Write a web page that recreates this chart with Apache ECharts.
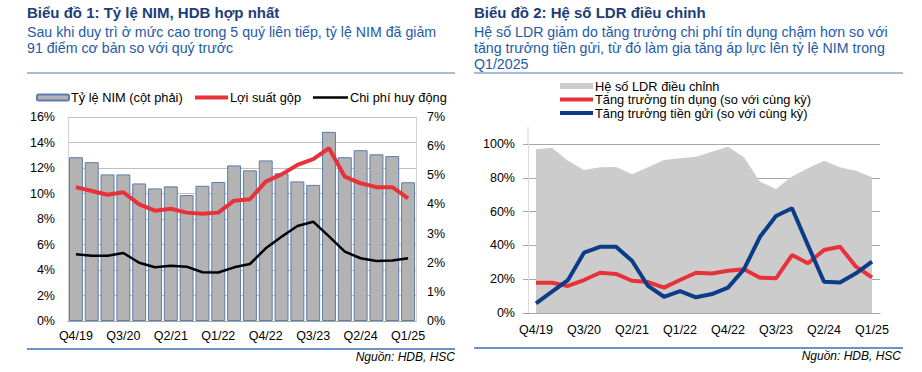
<!DOCTYPE html>
<html><head><meta charset="utf-8">
<script src="https://cdn.jsdelivr.net/npm/echarts@6/dist/echarts.min.js"></script>
<style>html,body{margin:0;padding:0;background:#fff}#c{width:922px;height:372px}</style>
</head><body><div id="c"></div>
<script>
var categories = ['Q4/19','Q1/20','Q2/20','Q3/20','Q4/20','Q1/21','Q2/21','Q3/21','Q4/21','Q1/22','Q2/22','Q3/22','Q4/22','Q1/23','Q2/23','Q3/23','Q4/23','Q1/24','Q2/24','Q3/24','Q4/24','Q1/25'];
// Chart 1
var nim = [5.62,5.45,5.03,5.03,4.72,4.55,4.62,4.32,4.64,4.77,5.34,5.17,5.51,5.07,4.79,4.67,6.49,5.62,5.86,5.72,5.66,4.76];
var grossYield = [10.5,10.2,9.9,10.1,9.15,8.65,8.8,8.5,8.42,8.5,9.44,9.55,10.93,11.5,12.24,12.7,13.55,11.32,10.8,10.5,10.5,9.62];
var fundingCost = [5.23,5.12,5.12,5.33,4.57,4.21,4.34,4.26,3.82,3.8,4.21,4.47,5.7,6.61,7.45,7.79,6.64,5.44,4.92,4.71,4.75,4.92];
// Chart 2
var ldr = [96.9,97.8,90.1,84.6,86.2,86.4,82.1,86.2,90.5,91.5,92.5,95.4,98.4,92.1,77.7,73.4,80.7,85.6,90.1,86.2,84.2,80.3];
var creditGrowth = [17.9,17.9,16,19.5,23.8,23.1,19.1,18.3,15,19.5,23.8,23.4,25,25.9,20.9,20.5,34.3,29.4,37.3,39.2,27.4,21.1];
var depositGrowth = [5.7,12.6,19.5,35.7,39.2,39.2,30.9,16,9.6,13,9.3,11.2,15,25.9,45.1,57.4,62,40,18.5,18,23.5,30.4];
var leftTicks = [0,2,4,6,8,10,12,14,16];
var rightTicks = [0,1,2,3,4,5,6,7];
var ldrTicks = [0,20,40,60,80,100];

var FONT = "'Liberation Sans', Arial, sans-serif";
var chart = echarts.init(document.getElementById('c'), null, {renderer:'svg'});
var axisLbl = {color:'#000', fontFamily:FONT, fontSize:12.5};
var gridLineCol = '#bfbfbf';

function txt(x,y,s,opt){
  return {type:'text', x:x, y:y, silent:true, style:Object.assign({text:s, fontFamily:FONT, fontSize:14.2, fill:'#1f5aa6', verticalAlign:'middle', align:'left'}, opt||{})};
}
function line(x1,y1,x2,y2,col,w){
  return {type:'line', silent:true, shape:{x1:x1,y1:y1,x2:x2,y2:y2}, style:{stroke:col, lineWidth:w}};
}
var legText = {fontFamily:FONT,fontSize:12.8,color:'#000',padding:[0,0,0,-3],lineHeight:13};

var option = {
  animation:false,
  backgroundColor:'#fff',
  textStyle:{fontFamily:FONT},
  graphic:[
    txt(27,12,'Biểu đồ 1: Tỷ lệ NIM, HDB hợp nhất',{fontWeight:'bold', fontSize:15, fill:'#1b3d78'}),
    txt(27,32,'Sau khi duy trì ở mức cao trong 5 quý liên tiếp, tỷ lệ NIM đã giảm'),
    txt(27,48,'91 điểm cơ bản so với quý trước'),
    line(27,73,455,73,'#8ea4c8',1.5),
    line(27,349,455,349,'#3d6fb3',1.5),
    txt(455,357,'Nguồn: HDB, HSC',{align:'right', fontStyle:'italic', fontSize:12, fill:'#000'}),
    txt(474,12,'Biểu đồ 2: Hệ số LDR điều chỉnh',{fontWeight:'bold', fontSize:15, fill:'#1b3d78'}),
    txt(474,32,'Hệ số LDR giảm do tăng trưởng chi phí tín dụng chậm hơn so với'),
    txt(474,48,'tăng trưởng tiền gửi, từ đó làm gia tăng áp lực lên tỷ lệ NIM trong'),
    txt(474,64,'Q1/2025'),
    line(474,73,903,73,'#8ea4c8',1.5),
    line(474,348,903,348,'#3d6fb3',1.5),
    txt(901,356,'Nguồn: HDB, HSC',{align:'right', fontStyle:'italic', fontSize:12, fill:'#000'}),
    line(528,127,528,144,'#d9d9d9',1)
  ],
  legend:[
    {data:['Tỷ lệ NIM (cột phải)'], left:36, top:91, itemWidth:32, itemHeight:6, itemGap:0, textStyle:legText, padding:0},
    {data:['Lợi suất gộp'], left:195, top:91, itemWidth:33, itemHeight:4, icon:'rect', textStyle:legText, padding:0},
    {data:['Chi phí huy động'], left:313, top:91, itemWidth:35, itemHeight:2.5, icon:'rect', textStyle:legText, padding:0},
    {data:['Hệ số LDR điều chỉnh'], left:560, top:79.5, itemWidth:33, itemHeight:6, icon:'rect', textStyle:legText, padding:0},
    {data:['Tăng trưởng tín dụng (so với cùng kỳ)'], left:560, top:93, itemWidth:33, itemHeight:4, icon:'rect', textStyle:legText, padding:0},
    {data:['Tăng trưởng tiền gửi (so với cùng kỳ)'], left:560, top:106.5, itemWidth:33, itemHeight:4, icon:'rect', textStyle:legText, padding:0}
  ],
  grid:[
    {left:68, right:506, top:117, bottom:51},
    {left:528, right:42, top:144, bottom:59}
  ],
  xAxis:[
    {type:'category', gridIndex:0, data:categories, boundaryGap:true,
     axisLine:{lineStyle:{color:'#a6a6a6'}}, axisTick:{interval:0, length:5, lineStyle:{color:'#a6a6a6'}},
     axisLabel:Object.assign({interval:2, margin:8}, axisLbl)},
    {type:'category', gridIndex:1, data:categories, boundaryGap:true,
     axisLine:{lineStyle:{color:'#a6a6a6'}}, axisTick:{interval:0, length:5, lineStyle:{color:'#a6a6a6'}},
     axisLabel:Object.assign({interval:2, margin:10}, axisLbl)}
  ],
  yAxis:[
    {type:'value', gridIndex:0, min:leftTicks[0], max:leftTicks[leftTicks.length-1], interval:2,
     axisLine:{show:true, lineStyle:{color:'#d0d0d0'}}, axisTick:{show:false},
     splitLine:{lineStyle:{color:gridLineCol}},
     axisLabel:Object.assign({formatter:'{value}%', margin:13}, axisLbl)},
    {type:'value', gridIndex:0, position:'right', min:rightTicks[0], max:rightTicks[rightTicks.length-1], interval:1,
     axisLine:{show:true, lineStyle:{color:'#d0d0d0'}}, axisTick:{show:false},
     splitLine:{show:false},
     axisLabel:Object.assign({formatter:'{value}%', margin:11}, axisLbl)},
    {type:'value', gridIndex:1, min:ldrTicks[0], max:ldrTicks[ldrTicks.length-1], interval:20,
     axisLine:{show:true, lineStyle:{color:'#d9d9d9'}}, axisTick:{show:true, length:5, lineStyle:{color:'#a6a6a6'}},
     splitLine:{lineStyle:{color:'#a6a6a6'}},
     axisLabel:Object.assign({formatter:'{value}%', margin:13}, axisLbl)}
  ],
  series:[
    {name:'Tỷ lệ NIM (cột phải)', type:'bar', xAxisIndex:0, yAxisIndex:1, data:nim, barCategoryGap:'12%',
     itemStyle:{color:'#b3b3b3', borderColor:'#5b7db0', borderWidth:1}},
    {name:'Lợi suất gộp', type:'line', xAxisIndex:0, yAxisIndex:0, data:grossYield, showSymbol:false, symbol:'none',
     lineStyle:{color:'#e8323a', width:4}, itemStyle:{color:'#e8323a'}},
    {name:'Chi phí huy động', type:'line', xAxisIndex:0, yAxisIndex:0, data:fundingCost, showSymbol:false, symbol:'none',
     lineStyle:{color:'#000', width:2.5}, itemStyle:{color:'#000'}},
    {name:'Hệ số LDR điều chỉnh', type:'line', xAxisIndex:1, yAxisIndex:2, data:ldr, showSymbol:false, symbol:'none',
     lineStyle:{width:0, color:'#cccccc'}, areaStyle:{color:'#cccccc', opacity:1}, itemStyle:{color:'#cccccc'}},
    {name:'Tăng trưởng tín dụng (so với cùng kỳ)', type:'line', xAxisIndex:1, yAxisIndex:2, data:creditGrowth, showSymbol:false, symbol:'none',
     lineStyle:{color:'#e8323a', width:4}, itemStyle:{color:'#e8323a'}},
    {name:'Tăng trưởng tiền gửi (so với cùng kỳ)', type:'line', xAxisIndex:1, yAxisIndex:2, data:depositGrowth, showSymbol:false, symbol:'none',
     lineStyle:{color:'#0b3c88', width:4}, itemStyle:{color:'#0b3c88'}}
  ]
};
chart.setOption(option);
</script></body></html>
